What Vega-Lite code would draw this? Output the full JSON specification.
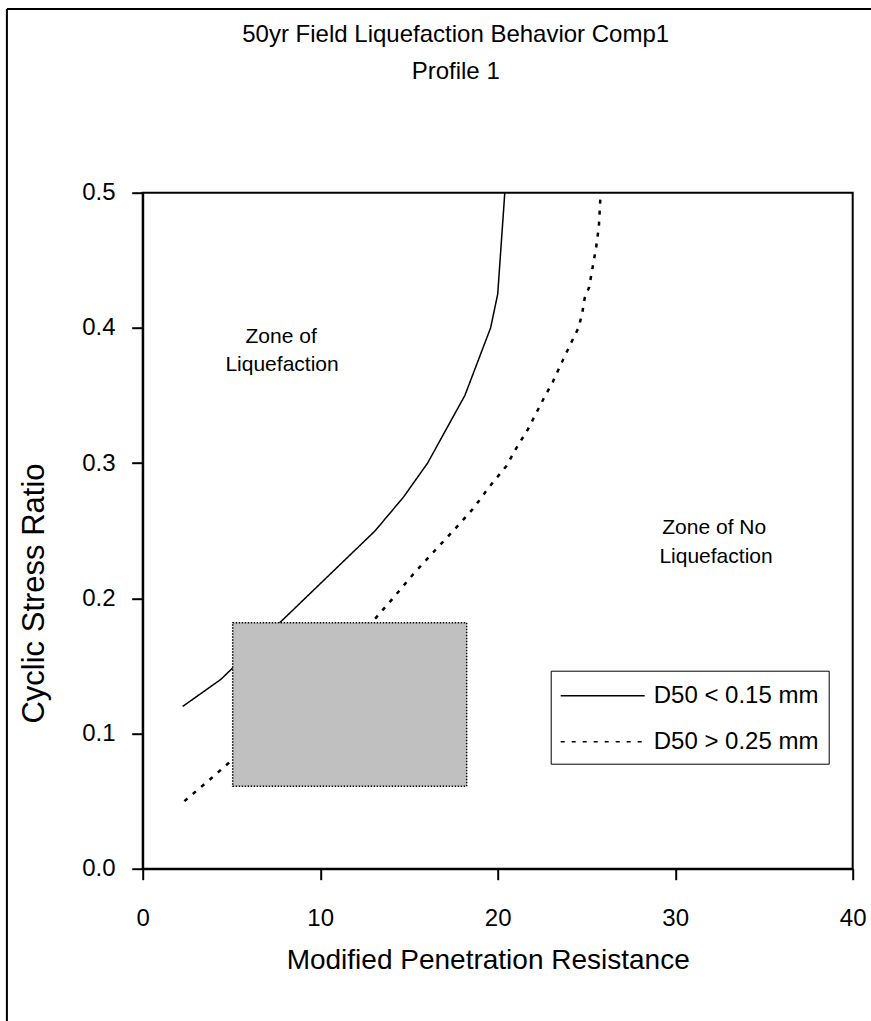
{
  "$schema": "https://vega.github.io/schema/vega-lite/v6.json",
  "width": 710,
  "height": 676,
  "autosize": {"type": "none"},
  "padding": {"left": 142.7, "top": 192.7, "right": 18.3, "bottom": 152.3},
  "background": "white",
  "title": {
    "text": ["50yr Field Liquefaction Behavior Comp1", "Profile 1"],
    "font": "Liberation Sans",
    "fontSize": 24,
    "fontWeight": "normal",
    "color": "black",
    "lineHeight": 37,
    "anchor": "middle",
    "dx": -42,
    "offset": -76
  },
  "datasets": {
    "curves": [
      {"series": "D50 < 0.15 mm", "x": 2.25, "y": 0.12},
      {"series": "D50 < 0.15 mm", "x": 4.4, "y": 0.14},
      {"series": "D50 < 0.15 mm", "x": 9.15, "y": 0.2},
      {"series": "D50 < 0.15 mm", "x": 13.1, "y": 0.25},
      {"series": "D50 < 0.15 mm", "x": 14.7, "y": 0.275},
      {"series": "D50 < 0.15 mm", "x": 16.05, "y": 0.3},
      {"series": "D50 < 0.15 mm", "x": 18.15, "y": 0.35},
      {"series": "D50 < 0.15 mm", "x": 19.6, "y": 0.4},
      {"series": "D50 < 0.15 mm", "x": 20.0, "y": 0.425},
      {"series": "D50 < 0.15 mm", "x": 20.4, "y": 0.5},
      {"series": "D50 > 0.25 mm", "x": 2.35, "y": 0.05},
      {"series": "D50 > 0.25 mm", "x": 3.7, "y": 0.065},
      {"series": "D50 > 0.25 mm", "x": 5.0, "y": 0.08},
      {"series": "D50 > 0.25 mm", "x": 13.1, "y": 0.185},
      {"series": "D50 > 0.25 mm", "x": 14.1, "y": 0.2},
      {"series": "D50 > 0.25 mm", "x": 15.25, "y": 0.218},
      {"series": "D50 > 0.25 mm", "x": 16.3, "y": 0.233},
      {"series": "D50 > 0.25 mm", "x": 17.5, "y": 0.25},
      {"series": "D50 > 0.25 mm", "x": 18.6, "y": 0.266},
      {"series": "D50 > 0.25 mm", "x": 19.5, "y": 0.282},
      {"series": "D50 > 0.25 mm", "x": 20.5, "y": 0.298},
      {"series": "D50 > 0.25 mm", "x": 21.0, "y": 0.31},
      {"series": "D50 > 0.25 mm", "x": 21.7, "y": 0.325},
      {"series": "D50 > 0.25 mm", "x": 22.6, "y": 0.348},
      {"series": "D50 > 0.25 mm", "x": 23.1, "y": 0.36},
      {"series": "D50 > 0.25 mm", "x": 23.7, "y": 0.377},
      {"series": "D50 > 0.25 mm", "x": 24.1, "y": 0.388},
      {"series": "D50 > 0.25 mm", "x": 24.55, "y": 0.4},
      {"series": "D50 > 0.25 mm", "x": 24.75, "y": 0.41},
      {"series": "D50 > 0.25 mm", "x": 24.9, "y": 0.422},
      {"series": "D50 > 0.25 mm", "x": 25.15, "y": 0.43},
      {"series": "D50 > 0.25 mm", "x": 25.35, "y": 0.445},
      {"series": "D50 > 0.25 mm", "x": 25.55, "y": 0.46},
      {"series": "D50 > 0.25 mm", "x": 25.7, "y": 0.475},
      {"series": "D50 > 0.25 mm", "x": 25.76, "y": 0.49},
      {"series": "D50 > 0.25 mm", "x": 25.8, "y": 0.5}
    ],
    "zone": [
      {"x": 5.07, "x2": 18.25, "y": 0.061, "y2": 0.182}
    ],
    "labels": [
      {"x": 7.8, "y": 0.3929, "text": "Zone of"},
      {"x": 7.85, "y": 0.3722, "text": "Liquefaction"},
      {"x": 32.2, "y": 0.252, "text": "Zone of No"},
      {"x": 32.3, "y": 0.2308, "text": "Liquefaction"}
    ]
  },
  "layer": [
    {
      "data": {"values": [{}]},
      "mark": {"type": "rule", "color": "black", "strokeWidth": 2},
      "encoding": {
        "x": {"datum": -7.65, "type": "quantitative", "scale": {"domain": [0, 40], "nice": false, "zero": false}},
        "y": {"datum": -0.2, "type": "quantitative", "scale": {"domain": [0, 0.5], "nice": false, "zero": false}},
        "y2": {"datum": 0.6359}
      }
    },
    {
      "data": {"values": [{}]},
      "mark": {"type": "rule", "color": "black", "strokeWidth": 2},
      "encoding": {
        "x": {"datum": -7.65, "type": "quantitative"},
        "x2": {"datum": 42},
        "y": {"datum": 0.6359, "type": "quantitative"}
      }
    },
    {
      "data": {"name": "curves"},
      "mark": {"type": "line", "color": "black"},
      "encoding": {
        "x": {
          "field": "x", "type": "quantitative",
          "axis": {
            "values": [0, 10, 20, 30, 40],
            "title": "Modified Penetration Resistance",
            "titleFontSize": 28,
            "titleX": 345,
            "titleY": 99.5,
            "titleBaseline": "alphabetic",
            "titleAlign": "center",
            "labelPadding": 26.5,
            "labelFlush": false
          }
        },
        "y": {
          "field": "y", "type": "quantitative",
          "axis": {
            "values": [0, 0.1, 0.2, 0.3, 0.4, 0.5],
            "format": ".1f",
            "title": "Cyclic Stress Ratio",
            "titleFontSize": 31,
            "titleX": -99.4,
            "titleY": 400.3,
            "titleAngle": 270,
            "titleBaseline": "alphabetic",
            "titleAlign": "center",
            "labelPadding": 16.7,
            "labelFlush": false
          }
        },
        "strokeDash": {
          "field": "series", "type": "nominal",
          "scale": {"domain": ["D50 < 0.15 mm", "D50 > 0.25 mm"], "range": [[1, 0], [4, 7]]},
          "legend": {
            "title": null,
            "orient": "none",
            "legendX": 408,
            "legendY": 478,
            "strokeColor": "black",
            "fillColor": "white",
            "padding": 10,
            "labelFont": "Liberation Sans",
            "labelFontSize": 24,
            "labelColor": "black",
            "labelLimit": 0,
            "symbolType": "M-1,0H5",
            "symbolSize": 784,
            "symbolStrokeWidth": 1.5,
            "symbolStrokeColor": "black",
            "symbolOffset": -1,
            "labelOffset": 64,
            "rowPadding": 19
          }
        },
        "strokeWidth": {
          "condition": {"test": "datum.series === 'D50 > 0.25 mm'", "value": 2.5},
          "value": 1.5
        }
      }
    },
    {
      "data": {"name": "zone"},
      "mark": {"type": "rect", "fill": "#C0C0C0", "stroke": "black", "strokeWidth": 1.5, "strokeDash": [1.5, 1.5]},
      "encoding": {
        "x": {"field": "x", "type": "quantitative"},
        "x2": {"field": "x2"},
        "y": {"field": "y", "type": "quantitative"},
        "y2": {"field": "y2"}
      }
    },
    {
      "data": {"name": "labels"},
      "mark": {"type": "text", "font": "Liberation Sans", "fontSize": 21, "color": "black", "align": "center", "baseline": "middle"},
      "encoding": {
        "x": {"field": "x", "type": "quantitative"},
        "y": {"field": "y", "type": "quantitative"},
        "text": {"field": "text", "type": "nominal"}
      }
    }
  ],
  "config": {
    "font": "Liberation Sans",
    "view": {"stroke": "black", "strokeWidth": 2},
    "axis": {
      "grid": false,
      "domainColor": "black",
      "domainWidth": 2,
      "tickColor": "black",
      "tickWidth": 2,
      "tickSize": 11,
      "labelFont": "Liberation Sans",
      "labelFontSize": 24,
      "labelColor": "black",
      "titleFont": "Liberation Sans",
      "titleFontWeight": "normal",
      "titleColor": "black"
    }
  }
}
